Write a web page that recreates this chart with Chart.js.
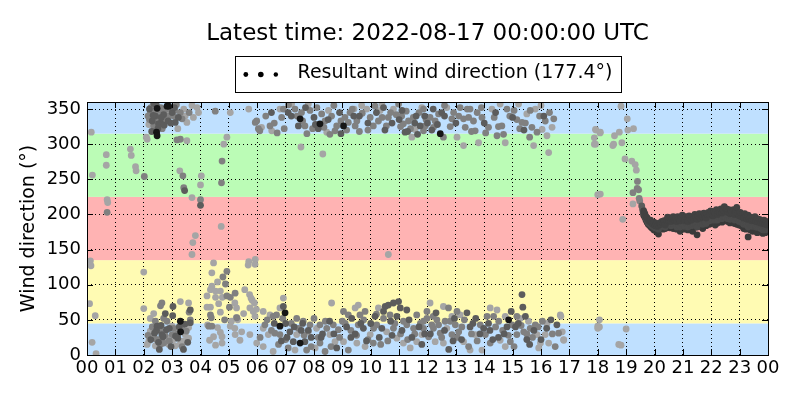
<!DOCTYPE html>
<html><head><meta charset="utf-8">
<script src="https://cdn.jsdelivr.net/npm/chart.js@4"></script>
<style>html,body{margin:0;padding:0;background:#fff}#wrap{width:800px;height:400px}</style>
</head><body><div id="wrap"><canvas id="c" width="800" height="400"></canvas></div>
<script>
const titleText = 'Latest time: 2022-08-17 00:00:00 UTC';
const resultantDirection = 177.4;
const seriesName = 'Resultant wind direction';
const yAxisTitle = 'Wind direction (°)';
const hourLabels = ['00','01','02','03','04','05','06','07','08','09','10','11','12','13','14','15','16','17','18','19','20','21','22','23','00'];
const hourTicks = [0,1,2,3,4,5,6,7,8,9,10,11,12,13,14,15,16,17,18,19,20,21,22,23,24];
const dirTicks = [0,50,100,150,200,250,300,350];
const sectorEdges = [0,45,135,225,315,360];
const sectorColors = ['#bfe0ff','#fffbb3','#ffb3b3','#bbfcb6','#bfe0ff'];

// light grey points (hour, degrees)
const lightT = [0.15,0.19,0.12,0.14,0.09,0.29,0.18,0.32,0.68,0.68,
  0.71,0.73,1.53,1.56,1.71,1.73,2.0,2.0,2.12,2.09,
  3.52,3.27,3.7,4.03,4.0,3.82,3.73,3.7,4.73,4.82,
  4.93,2.18,2.64,3.46,3.52,3.41,3.7,3.88,3.93,5.05,
  5.7,2.9,3.2,3.75,3.29,3.58,2.23,2.35,3.0,3.58,
  3.17,3.46,2.23,2.35,2.82,3.05,2.88,2.18,2.12,3.41,
  3.29,3.11,2.41,3.58,4.46,4.4,4.6,4.4,4.35,4.53,
  4.7,4.23,4.53,4.77,4.64,4.35,4.23,4.7,4.46,4.76,
  5.26,5.31,5.52,5.7,5.93,5.73,5.78,5.82,5.9,5.97,
  4.25,4.6,5.05,5.22,4.7,4.32,4.76,4.53,5.68,5.92,
  5.56,5.21,5.27,5.74,5.86,5.92,5.09,5.21,5.45,5.39,
  5.74,5.98,7.54,8.31,10.62,6.21,6.45,6.8,6.92,6.21,
  6.39,7.39,7.8,8.09,8.56,8.62,9.45,9.56,9.98,10.27,
  10.56,10.92,11.15,11.62,11.8,9.04,9.51,8.74,6.56,6.21,
  7.33,8.04,9.8,11.39,6.15,6.51,6.8,7.21,7.8,8.51,
  8.45,9.41,9.68,9.86,10.33,10.8,11.45,11.56,10.39,11.8,
  12.68,13.04,13.8,13.27,14.27,14.56,14.74,15.21,15.5,15.74,
  15.8,16.21,16.27,16.39,16.04,16.0,17.92,18.09,17.92,18.56,
  18.09,12.09,12.56,12.86,13.15,12.68,12.27,12.56,13.27,13.5,
  13.68,14.21,14.45,14.74,15.27,15.56,14.74,14.56,13.92,15.86,
  15.98,15.92,16.21,16.27,16.68,16.8,18.06,18.06,16.15,16.7,
  16.75,16.8,18.82,19.04,17.94,18.08,17.88,17.88,18.59,18.76,
  18.53,18.85,19.06,19.26,18.96,19.2,19.32,19.36,18.0,19.24,
  18.88,18.0,18.0,19.0,18.74,18.82];
const lightD = [317,256,134,127,73,56,18,2,285,270,
  221,217,293,284,268,262,118,66,307,310,
  305,262,224,255,242,170,160,143,183,300,
  310,328,345,340,331,350,355,352,345,345,
  350,346,322,338,76,74,52,59,41,39,
  34,29,34,27,24,22,15,20,15,20,
  16,13,13,24,131,117,104,98,93,91,
  91,84,82,82,73,68,68,61,26,26,
  53,50,59,133,136,86,81,78,74,65,
  43,39,41,29,32,21,17,14,128,129,
  93,74,67,67,62,55,48,38,33,21,
  29,17,296,286,143,62,57,67,81,38,
  29,29,33,38,29,74,67,71,29,67,
  33,24,17,19,29,19,17,19,5,12,
  7,10,12,10,324,319,350,357,357,348,
  317,350,355,350,348,350,310,321,357,352,
  352,310,302,298,350,357,302,357,343,298,
  350,312,288,324,321,355,321,317,300,300,
  229,74,69,55,57,38,19,17,19,7,
  29,67,64,55,52,48,12,21,7,29,
  17,10,45,17,57,21,50,40,29,55,
  33,22,354,336,320,316,309,300,312,317,
  298,302,320,322,279,276,271,263,228,215,
  193,41,38,37,15,14];

// mid grey points
const midT = [0.71,2.02,3.17,3.29,3.38,3.41,4.0,4.76,4.74,2.23,
  2.47,2.76,3.05,3.29,4.52,5.93,6.04,2.15,2.25,2.55,
  3.15,3.35,3.6,2.35,2.64,2.59,2.7,2.41,2.82,3.35,
  2.53,3.0,2.7,2.59,3.64,3.6,4.79,4.93,4.88,4.93,
  5.05,5.22,5.02,4.35,4.38,4.85,4.29,4.4,5.28,5.98,
  6.09,6.45,6.86,6.92,7.33,7.56,7.86,7.68,8.27,8.39,
  8.62,8.56,8.74,8.8,9.09,9.27,9.21,9.51,9.98,10.09,
  10.27,10.62,10.98,11.09,11.15,11.33,11.86,11.86,6.27,6.56,
  6.68,6.62,6.8,7.09,7.74,8.21,8.45,8.68,8.86,9.04,
  9.21,9.62,9.8,9.56,10.09,10.68,10.45,10.21,10.8,11.86,
  11.51,11.27,11.15,11.62,11.98,9.21,8.21,8.39,7.86,7.62,
  7.39,11.92,12.09,12.27,12.21,12.56,12.39,12.86,12.92,13.15,
  13.33,13.27,13.45,13.62,13.68,13.5,13.92,14.15,14.62,14.68,
  14.8,15.33,15.68,15.86,16.15,15.62,11.98,11.86,12.15,12.33,
  12.74,13.04,12.98,13.21,12.45,12.21,12.04,12.86,13.1,13.86,
  14.33,14.51,14.98,15.15,15.39,15.15,14.92,14.21,14.04,16.62,
  15.62,15.8,12.39,12.62,19.4,19.39,19.44,19.24,19.46,19.48,
  2.2,2.3,2.4,2.5,2.6,2.65,2.75,2.85,2.95,3.1,
  2.15,2.3,2.45,2.6,2.75,2.9,3.05,3.2,3.35,3.5,
  6.3,6.6,6.95,7.1,7.4,7.6,7.95,8.1,8.35,8.7,
  8.95,9.15,9.35,9.45,9.7,9.9,10.15,10.4,10.55,10.7,
  10.9,11.05,11.25,11.4,11.5,11.7,11.95,6.7,7.75,9.6,
  6.1,6.35,6.5,6.75,7.0,7.2,7.45,7.65,7.9,8.15,
  8.4,8.6,8.9,9.1,9.3,9.5,9.75,9.9,10.1,10.35,
  10.6,10.85,11.05,11.3,11.55,11.75,6.9,8.0,9.0,10.2,
  12.8,13.1,13.4,13.55,13.75,14.05,14.35,14.5,14.9,15.05,
  15.25,15.45,15.6,15.95,16.3,16.45,12.6,13.9,14.45,15.15,
  12.2,12.5,12.8,13.05,13.3,13.55,13.75,14.1,14.4,14.65,
  14.85,15.05,15.3,15.5,15.7,15.9,16.05,16.4,16.5,13.45];
const midD = [203,254,306,307,255,238,221,276,245,345,
  333,336,340,345,347,331,322,340,352,348,
  356,336,345,326,74,70,52,48,48,41,
  22,29,17,15,50,61,111,119,101,84,
  82,88,68,57,53,50,41,41,53,333,
  319,326,338,350,350,345,348,326,343,333,
  340,314,319,326,338,345,331,333,338,326,
  333,338,357,340,329,333,350,319,43,55,
  57,31,29,10,7,43,38,43,36,62,
  57,57,62,43,17,57,52,43,38,38,
  38,43,48,57,52,7,17,5,43,48,
  52,326,338,333,324,310,343,336,345,352,
  324,336,338,333,319,350,338,324,326,314,
  350,331,324,317,333,348,62,48,43,50,
  67,62,43,40,31,38,26,29,33,43,
  55,48,43,55,33,29,19,17,29,31,
  38,43,43,48,247,237,235,231,223,219,
  335,348,344,338,352,322,349,340,350,348,
  28,40,22,34,28,20,38,30,12,34,
  340,330,322,356,340,333,322,352,324,355,
  333,320,350,326,344,320,354,338,326,345,
  342,325,347,322,338,345,335,316,315,318,
  25,50,35,15,22,45,38,28,12,25,
  48,12,25,45,35,28,50,22,38,15,
  20,45,30,22,30,45,52,52,48,58,
  325,340,350,318,345,316,338,325,340,348,
  322,330,310,340,345,336,355,352,312,335,
  55,25,48,25,50,30,20,55,40,35,
  28,12,42,30,25,40,48,30,12,12];

// dark grey points
const darkT = [3.44,4.0,2.41,2.3,3.11,2.6,2.7,2.95,2.5,2.28,
  2.35,3.03,3.64,2.76,2.47,2.61,3.64,2.64,3.02,2.45,
  2.9,3.2,2.55,3.4,6.92,7.15,7.27,7.68,9.33,9.74,
  10.51,10.62,10.8,10.98,11.04,11.27,10.92,10.39,11.21,11.74,
  7.45,7.09,8.0,8.15,8.9,9.6,10.5,11.0,11.6,7.0,
  7.55,7.9,8.3,8.8,9.3,10.0,10.3,10.7,11.45,11.8,
  13.39,13.98,15.33,15.36,16.56,12.5,12.15,13.0,14.0,14.4,
  15.0,15.4,16.1,12.9,13.6,14.2,14.7,15.1,15.5,12.3,
  19.55,19.58,19.6,
  2.2,2.33,2.44,2.52,2.62,2.72,2.86,3.0,3.08,3.22,
  2.25,2.38,2.52,2.68,2.8,2.96,3.12,3.25,3.45,3.55,
  6.5,7.2,7.7,8.05,8.5,8.95,9.4,9.9,10.2,10.45,
  10.75,11.1,11.3,11.55,11.65,11.9,12.0,12.2,12.35,12.6,
  6.6,6.85,7.3,7.6,8.25,8.55,9.15,9.45,9.85,10.15,
  10.45,10.75,11.1,11.35,11.7,7.05,7.8,8.7,9.65,11.9,
  12.6,12.95,13.2,13.5,13.85,14.15,14.5,14.8,15.2,15.45,
  15.75,16.0,16.35,12.1,13.7,14.3,14.95,15.6,16.2,12.75];
const darkD = [234,213,340,333,331,330,342,330,322,318,
  358,69,64,59,41,42,46,29,56,35,
  38,24,8,8,69,33,19,19,52,38,
  69,71,74,76,67,64,55,38,317,326,
  326,345,338,322,345,340,320,335,340,45,
  35,25,30,10,25,45,25,48,25,15,
  60,38,86,68,43,345,320,330,330,345,
  338,320,340,20,45,35,30,40,22,60,
  212,207,203,
  350,341,356,329,338,327,333,345,352,338,
  22,31,18,26,36,12,27,40,44,18,
  345,340,352,328,335,315,340,330,345,352,
  330,348,318,330,314,340,330,350,328,340,
  45,20,40,45,25,48,40,30,20,55,
  62,28,35,50,40,25,35,30,45,30,
  35,52,22,40,30,45,25,40,45,55,
  35,22,50,30,52,22,62,15,38,8];

// near-black points
const blackT = [2.47,2.82,2.88,2.45,2.47,3.29,3.3,6.8,6.98,7.51,
  7.51,8.21,9.04,12.45,14.86];
const blackD = [351,354,354,317,312,48,33,41,60,17,
  336,329,326,315,50];

// evening steady flow (hour; upper, middle and lower samples)
const bandT = [19.62,19.66,19.70,19.74,19.78,19.82,19.86,19.90,19.94,19.98,
  20.02,20.06,20.10,20.14,20.18,20.22,20.26,20.30,20.34,20.38,
  20.42,20.46,20.50,20.54,20.58,20.62,20.66,20.70,20.74,20.78,
  20.82,20.86,20.90,20.94,20.98,21.02,21.06,21.10,21.14,21.18,
  21.22,21.26,21.30,21.34,21.38,21.42,21.46,21.50,21.54,21.58,
  21.62,21.66,21.70,21.74,21.78,21.82,21.86,21.90,21.94,21.98,
  22.02,22.06,22.10,22.14,22.18,22.22,22.26,22.30,22.34,22.38,
  22.42,22.46,22.50,22.54,22.58,22.62,22.66,22.70,22.74,22.78,
  22.82,22.86,22.90,22.94,22.98,23.02,23.06,23.10,23.14,23.18,
  23.22,23.26,23.30,23.34,23.38,23.42,23.46,23.50,23.54,23.58,
  23.62,23.66,23.70,23.74,23.78,23.82,23.86,23.90,23.94,23.98];
const bandUpper = [205,201,197,195,192,190,192,188,186,189,
  184,187,183,185,188,186,190,187,191,185,
  192,196,191,195,190,194,197,192,195,190,
  197,193,191,196,199,194,191,197,193,190,
  198,195,192,197,194,200,196,193,198,201,
  195,199,197,202,198,195,200,203,199,205,
  201,198,204,202,207,200,205,203,208,202,
  206,211,204,208,203,207,201,205,202,207,
  200,204,210,201,198,203,197,200,195,201,
  197,193,199,194,196,191,195,192,197,190,
  194,189,193,188,191,187,192,186,190,185];
const bandMid = [202,198,194,191,188,187,186,184,183,183,
  181,182,180,179,184,183,186,183,187,182,
  186,188,186,187,184,187,187,191,186,182,
  188,185,182,188,190,186,183,189,185,182,
  189,188,184,185,187,191,187,182,190,192,
  187,191,186,193,190,187,192,194,191,196,
  193,192,196,192,198,192,197,195,199,194,
  198,200,197,201,194,199,193,197,195,197,
  192,196,197,194,190,194,189,192,186,191,
  186,186,182,186,185,184,183,184,185,182,
  182,183,183,180,182,178,184,178,181,179];
const bandLower = [199,196,192,189,186,185,183,181,180,178,
  179,176,178,172,180,181,182,179,183,180,
  184,182,185,181,183,184,180,186,182,179,
  184,181,176,183,185,182,179,184,181,178,
  183,185,180,176,184,186,182,171,185,187,
  183,186,180,188,185,184,187,189,186,190,
  188,189,191,185,192,188,193,190,194,189,
  195,191,193,196,190,194,188,192,191,189,
  187,192,186,190,185,188,184,187,180,185,
  179,183,168,182,178,181,176,180,177,179,
  174,181,177,175,178,173,179,174,177,176];

const FONT = 'DejaVu Sans';
const pts = (ts, ds) => ts.map((t, i) => ({x: t, y: ds[i]}));
const legendDots = [[3.25,2.4],[18.25,2.8],[33.25,2.2]];

const sectorPlugin = {
  id: 'sectors',
  beforeDraw(chart) {
    const {ctx, chartArea: a, scales: {y}} = chart;
    ctx.save();
    for (let i = 0; i < sectorColors.length; i++) {
      const y0 = y.getPixelForValue(sectorEdges[i]);
      const y1 = y.getPixelForValue(sectorEdges[i+1]);
      ctx.fillStyle = sectorColors[i];
      ctx.fillRect(a.left, y1, a.right - a.left, y0 - y1);
    }
    ctx.restore();
  }
};
const framePlugin = {
  id: 'frame',
  afterDatasetsDraw(chart) {
    const {ctx, chartArea: a, scales: {x, y}} = chart;
    ctx.save();
    ctx.strokeStyle = '#000'; ctx.lineWidth = 1;
    ctx.beginPath();
    hourTicks.forEach(h => { const px = Math.round(x.getPixelForValue(h)) + 0.5;
      ctx.moveTo(px, a.bottom); ctx.lineTo(px, a.bottom - 6);
      ctx.moveTo(px, a.top); ctx.lineTo(px, a.top + 6); });
    dirTicks.forEach(d => { const py = Math.round(y.getPixelForValue(d)) + 0.5;
      ctx.moveTo(a.left, py); ctx.lineTo(a.left + 6, py);
      ctx.moveTo(a.right, py); ctx.lineTo(a.right - 6, py); });
    ctx.stroke();
    ctx.strokeRect(Math.round(a.left) + 0.5, Math.round(a.top) + 0.5, Math.round(a.right - a.left), Math.round(a.bottom - a.top));
    ctx.restore();
  },
  afterDraw(chart) {
    const lg = chart.legend;
    if (!lg || !lg.legendHitBoxes || !lg.legendHitBoxes.length) return;
    const hb = lg.legendHitBoxes[0];
    const ctx = chart.ctx;
    const cy = hb.top + hb.height / 2;
    ctx.save();
    ctx.strokeStyle = '#000'; ctx.lineWidth = 1;
    ctx.strokeRect(Math.round(hb.left - 8) + 0.5, Math.round(cy - 18) + 0.5, Math.round(hb.width + 16), 36);
    ctx.fillStyle = '#000';
    legendDots.forEach(([dx, r]) => { ctx.beginPath(); ctx.arc(hb.left + dx, cy + 1, r, 0, Math.PI * 2); ctx.fill(); });
    ctx.restore();
  }
};

const mk = (label, ts, ds, color, order) => ({
  label, data: pts(ts, ds), backgroundColor: color, borderColor: color,
  pointRadius: 3.4, pointBorderWidth: 0, pointHoverRadius: 3.4, showLine: false, clip: 0, order
});

new Chart(document.getElementById('c'), {
  type: 'scatter',
  data: { datasets: [
    mk(seriesName, lightT, lightD, 'rgb(165,165,165)', 5),
    mk(seriesName, midT, midD, 'rgb(128,128,128)', 4),
    mk(seriesName, darkT, darkD, 'rgb(92,92,92)', 3),
    mk(seriesName, bandT, bandUpper, 'rgb(66,66,66)', 2),
    mk(seriesName, bandT, bandMid, 'rgb(74,74,74)', 2),
    mk(seriesName, bandT, bandLower, 'rgb(58,58,58)', 2),
    mk(seriesName, blackT, blackD, 'rgb(22,22,22)', 1)
  ]},
  options: {
    responsive: false, animation: false, devicePixelRatio: 1, events: [],
    layout: { padding: {left: 0, right: 32, top: 0, bottom: 0} },
    plugins: {
      tooltip: {enabled: false},
      title: { display: true, text: titleText, color: '#000', fullSize: false,
        font: {family: FONT, size: 23, weight: 'normal', lineHeight: 1},
        padding: {top: 22.5, bottom: 0} },
      legend: { display: true, fullSize: false, position: 'top',
        labels: { color: '#000', font: {family: FONT, size: 19}, padding: 9.5,
          usePointStyle: false, boxWidth: 45.5, boxHeight: 37,
          generateLabels: () => [{ text: seriesName + ' (' + resultantDirection.toFixed(1) + '°)',
            fillStyle: 'rgba(0,0,0,0)', strokeStyle: 'rgba(0,0,0,0)', lineWidth: 0,
            hidden: false, datasetIndex: 0, fontColor: '#000' }] } }
    },
    scales: {
      x: { type: 'linear', min: 0, max: 24,
        afterBuildTicks: s => { s.ticks = hourTicks.map(v => ({value: v})); },
        afterFit: s => { s.height = 45; },
        ticks: { callback: v => hourLabels[v], color: '#000', font: {family: FONT, size: 18}, padding: 3, maxRotation: 0, autoSkip: false },
        grid: { color: '#000', lineWidth: 1, drawTicks: false },
        border: { display: false, dash: [1, 3] } },
      y: { type: 'linear', min: 0, max: 360,
        afterBuildTicks: s => { s.ticks = dirTicks.map(v => ({value: v})); },
        afterFit: s => { s.width = 87; },
        ticks: { color: '#000', font: {family: FONT, size: 18}, padding: 6 },
        grid: { color: '#000', lineWidth: 1, drawTicks: false },
        border: { display: false, dash: [1, 3] },
        title: { display: true, text: yAxisTitle, color: '#000', font: {family: FONT, size: 19}, padding: {top: 17.6, bottom: 0} } }
    }
  },
  plugins: [sectorPlugin, framePlugin]
});
</script></body></html>
